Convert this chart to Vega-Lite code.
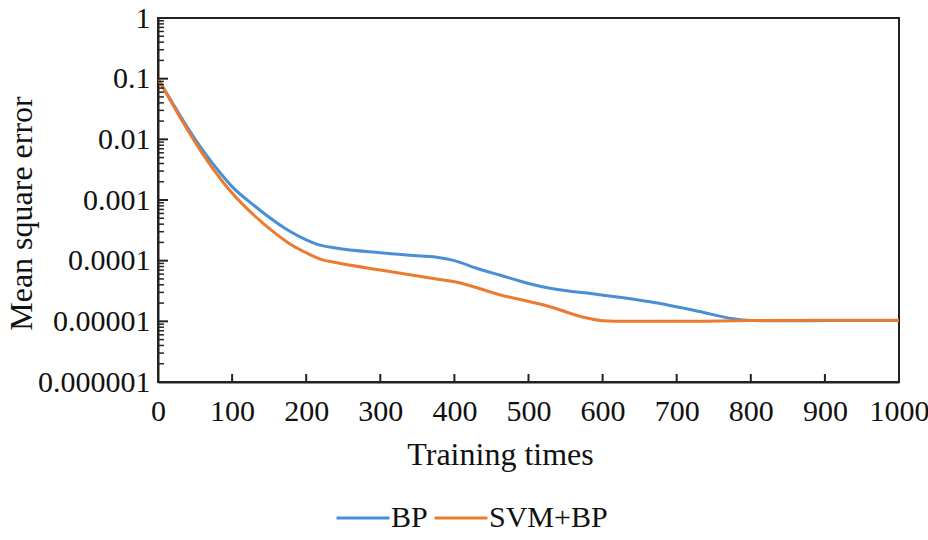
{
  "$schema": "https://vega.github.io/schema/vega-lite/v6.json",
  "width": 741,
  "height": 364,
  "autosize": "none",
  "padding": {"left": 158, "top": 18, "right": 29, "bottom": 158},
  "background": "white",
  "config": {
    "view": {"stroke": "#222", "strokeWidth": 2},
    "font": "Liberation Serif",
    "axis": {
      "labelFont": "Liberation Serif",
      "titleFont": "Liberation Serif",
      "labelColor": "#111",
      "titleColor": "#111",
      "labelFontSize": 30,
      "titleFontSize": 32,
      "titleFontWeight": "normal",
      "domainColor": "#222",
      "domainWidth": 2,
      "grid": false
    }
  },
  "datasets": {
    "curves": [
      {"t": 0, "mse": 0.1, "method": "BP"},
      {"t": 20, "mse": 0.039, "method": "BP"},
      {"t": 40, "mse": 0.0155, "method": "BP"},
      {"t": 60, "mse": 0.0067, "method": "BP"},
      {"t": 86, "mse": 0.0026, "method": "BP"},
      {"t": 100, "mse": 0.00166, "method": "BP"},
      {"t": 131, "mse": 0.00079, "method": "BP"},
      {"t": 150, "mse": 0.00052, "method": "BP"},
      {"t": 175, "mse": 0.00032, "method": "BP"},
      {"t": 200, "mse": 0.00022, "method": "BP"},
      {"t": 215, "mse": 0.000186, "method": "BP"},
      {"t": 240, "mse": 0.000162, "method": "BP"},
      {"t": 300, "mse": 0.000135, "method": "BP"},
      {"t": 350, "mse": 0.00012, "method": "BP"},
      {"t": 380, "mse": 0.000112, "method": "BP"},
      {"t": 400, "mse": 0.0001, "method": "BP"},
      {"t": 430, "mse": 0.000075, "method": "BP"},
      {"t": 461, "mse": 0.000058, "method": "BP"},
      {"t": 500, "mse": 0.000042, "method": "BP"},
      {"t": 529, "mse": 0.000035, "method": "BP"},
      {"t": 596, "mse": 0.0000275, "method": "BP"},
      {"t": 664, "mse": 0.000021, "method": "BP"},
      {"t": 731, "mse": 0.0000145, "method": "BP"},
      {"t": 776, "mse": 0.000011, "method": "BP"},
      {"t": 800, "mse": 0.0000103, "method": "BP"},
      {"t": 850, "mse": 0.0000102, "method": "BP"},
      {"t": 900, "mse": 0.0000103, "method": "BP"},
      {"t": 1000, "mse": 0.0000103, "method": "BP"},
      {"t": 0, "mse": 0.1, "method": "SVM+BP"},
      {"t": 20, "mse": 0.037, "method": "SVM+BP"},
      {"t": 40, "mse": 0.0142, "method": "SVM+BP"},
      {"t": 60, "mse": 0.0058, "method": "SVM+BP"},
      {"t": 86, "mse": 0.0021, "method": "SVM+BP"},
      {"t": 100, "mse": 0.0013, "method": "SVM+BP"},
      {"t": 131, "mse": 0.00054, "method": "SVM+BP"},
      {"t": 150, "mse": 0.00034, "method": "SVM+BP"},
      {"t": 175, "mse": 0.0002, "method": "SVM+BP"},
      {"t": 200, "mse": 0.000135, "method": "SVM+BP"},
      {"t": 220, "mse": 0.000105, "method": "SVM+BP"},
      {"t": 240, "mse": 0.000093, "method": "SVM+BP"},
      {"t": 300, "mse": 0.00007, "method": "SVM+BP"},
      {"t": 380, "mse": 0.000049, "method": "SVM+BP"},
      {"t": 400, "mse": 0.000045, "method": "SVM+BP"},
      {"t": 461, "mse": 0.0000275, "method": "SVM+BP"},
      {"t": 529, "mse": 0.0000174, "method": "SVM+BP"},
      {"t": 574, "mse": 0.0000117, "method": "SVM+BP"},
      {"t": 601, "mse": 0.0000102, "method": "SVM+BP"},
      {"t": 630, "mse": 0.00001, "method": "SVM+BP"},
      {"t": 700, "mse": 0.00001, "method": "SVM+BP"},
      {"t": 800, "mse": 0.0000103, "method": "SVM+BP"},
      {"t": 900, "mse": 0.0000104, "method": "SVM+BP"},
      {"t": 1000, "mse": 0.0000104, "method": "SVM+BP"}
    ],
    "yMajor": [
      {"mse": 0.00001}, {"mse": 0.0001}, {"mse": 0.001}, {"mse": 0.01}, {"mse": 0.1}
    ],
    "yMinor": [
      {"mse": 0.000002}, {"mse": 0.000003}, {"mse": 0.000004}, {"mse": 0.000005}, {"mse": 0.000006}, {"mse": 0.000007}, {"mse": 0.000008}, {"mse": 0.000009},
      {"mse": 0.00002}, {"mse": 0.00003}, {"mse": 0.00004}, {"mse": 0.00005}, {"mse": 0.00006}, {"mse": 0.00007}, {"mse": 0.00008}, {"mse": 0.00009},
      {"mse": 0.0002}, {"mse": 0.0003}, {"mse": 0.0004}, {"mse": 0.0005}, {"mse": 0.0006}, {"mse": 0.0007}, {"mse": 0.0008}, {"mse": 0.0009},
      {"mse": 0.002}, {"mse": 0.003}, {"mse": 0.004}, {"mse": 0.005}, {"mse": 0.006}, {"mse": 0.007}, {"mse": 0.008}, {"mse": 0.009},
      {"mse": 0.02}, {"mse": 0.03}, {"mse": 0.04}, {"mse": 0.05}, {"mse": 0.06}, {"mse": 0.07}, {"mse": 0.08}, {"mse": 0.09},
      {"mse": 0.2}, {"mse": 0.3}, {"mse": 0.4}, {"mse": 0.5}, {"mse": 0.6}, {"mse": 0.7}, {"mse": 0.8}, {"mse": 0.9}
    ],
    "xMajor": [
      {"t": 100}, {"t": 200}, {"t": 300}, {"t": 400}, {"t": 500}, {"t": 600}, {"t": 700}, {"t": 800}, {"t": 900}
    ]
  },
  "layer": [
    {
      "data": {"name": "curves"},
      "mark": {"type": "line", "interpolate": "monotone", "strokeWidth": 3, "clip": true},
      "encoding": {
        "x": {
          "field": "t", "type": "quantitative",
          "scale": {"domain": [0, 1000], "nice": false, "zero": false},
          "axis": {
            "values": [0, 100, 200, 300, 400, 500, 600, 700, 800, 900, 1000],
            "format": "d",
            "title": "Training times",
            "ticks": false,
            "labelPadding": 14,
            "titlePadding": 13,
            "titleX": 342,
            "titleAnchor": "middle",
            "labelFlush": false
          }
        },
        "y": {
          "field": "mse", "type": "quantitative",
          "scale": {"type": "log", "domain": [0.000001, 1], "nice": false},
          "axis": {
            "values": [0.000001, 0.00001, 0.0001, 0.001, 0.01, 0.1, 1],
            "format": ".6~f",
            "title": "Mean square error",
            "ticks": false,
            "labelPadding": 8,
            "titleX": -120,
            "titleY": 195,
            "titleAnchor": "middle"
          }
        },
        "color": {
          "field": "method", "type": "nominal",
          "scale": {"domain": ["BP", "SVM+BP"], "range": ["#4a8fd6", "#ec7a2f"]},
          "legend": {
            "title": null,
            "orient": "none",
            "direction": "horizontal",
            "legendX": 177,
            "legendY": 472,
            "symbolType": "stroke",
            "symbolSize": 2800,
            "symbolStrokeWidth": 3,
            "labelFont": "Liberation Serif",
            "labelFontSize": 30,
            "labelColor": "#111",
            "labelOffset": 0,
            "columnPadding": 0
          }
        }
      }
    },
    {
      "data": {"name": "yMajor"},
      "mark": {"type": "rule", "color": "#222", "strokeWidth": 2},
      "encoding": {
        "y": {"field": "mse", "type": "quantitative"},
        "x": {"datum": 0},
        "x2": {"datum": 13.5}
      }
    },
    {
      "data": {"name": "yMinor"},
      "mark": {"type": "rule", "color": "#222", "strokeWidth": 1.5},
      "encoding": {
        "y": {"field": "mse", "type": "quantitative"},
        "x": {"datum": 0},
        "x2": {"datum": 8}
      }
    },
    {
      "data": {"name": "xMajor"},
      "mark": {"type": "rule", "color": "#222", "strokeWidth": 2},
      "encoding": {
        "x": {"field": "t", "type": "quantitative"},
        "y": {"datum": 0.000001},
        "y2": {"datum": 0.000001355}
      }
    }
  ]
}
